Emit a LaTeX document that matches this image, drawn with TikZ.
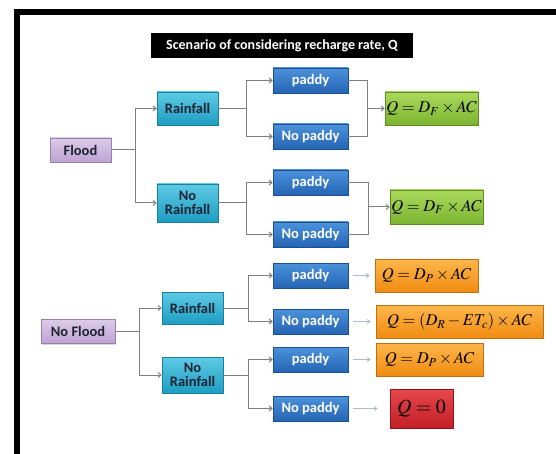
\documentclass[tikz,border=0pt]{standalone}
\usepackage{mathptmx}
\usepackage{fontspec}
\setmainfont{Carlito}
\usetikzlibrary{arrows.meta,shadows}
\definecolor{lineg}{HTML}{7F7F7F}
\definecolor{lightarr}{HTML}{A9BCCB}
\definecolor{boxtext}{HTML}{1C2433}
\definecolor{fltop}{HTML}{DCCBE8}\definecolor{flbot}{HTML}{BFA2D3}\definecolor{fldraw}{HTML}{9680AE}
\definecolor{rntop}{HTML}{5ECAE5}\definecolor{rnbot}{HTML}{1E9DC2}\definecolor{rndraw}{HTML}{17809E}
\definecolor{pdtop}{HTML}{4C92DC}\definecolor{pdbot}{HTML}{2464B4}\definecolor{pddraw}{HTML}{1D4F8F}
\definecolor{grtop}{HTML}{AAD85C}\definecolor{grbot}{HTML}{7DB532}\definecolor{grdraw}{HTML}{5F8A22}
\definecolor{ortop}{HTML}{FDB64B}\definecolor{orbot}{HTML}{F08C12}\definecolor{ordraw}{HTML}{C06F10}
\definecolor{rdtop}{HTML}{E6484C}\definecolor{rdbot}{HTML}{C21F26}\definecolor{rddraw}{HTML}{8E1519}
\tikzset{
  box/.style={draw, line width=0.5pt, inner sep=0pt, align=center,
    font=\fontsize{14.5}{16}\selectfont\bfseries,
    drop shadow={shadow xshift=1.2pt, shadow yshift=-1.2pt, opacity=0.3}},
  floodbox/.style={box, draw=fldraw, top color=fltop, bottom color=flbot, text=boxtext, minimum height=24pt},
  rainbox/.style={box, draw=rndraw, top color=rntop, bottom color=rnbot, text=boxtext, minimum width=61pt},
  padbox/.style={box, draw=pddraw, top color=pdtop, bottom color=pdbot, text=white, minimum width=75pt, minimum height=25pt, text height=10pt, text depth=2.5pt},
  eqbox/.style={box, font=\fontsize{16.5}{18}\selectfont, text=black, minimum height=33pt},
  greenbox/.style={eqbox, draw=grdraw, top color=grtop, bottom color=grbot, minimum width=93pt},
  orangebox/.style={eqbox, draw=ordraw, top color=ortop, bottom color=orbot},
  redbox/.style={eqbox, draw=rddraw, top color=rdtop, bottom color=rdbot, minimum width=63pt, minimum height=39pt},
  line/.style={draw=lineg, line width=1pt},
  arr/.style={line, -{Straight Barb[length=3pt,width=5pt]}},
  larr/.style={draw=lightarr, line width=0.8pt, -{Straight Barb[length=3pt,width=4pt]}}
}
\begin{document}
\begin{tikzpicture}[x=1pt,y=-1pt]
\useasboundingbox (0,0) rectangle (556,454);
% frame
\fill[black] (14,9) rectangle (556,15);
\fill[black] (14,9) rectangle (20,454);
% title
\node[fill=black, text=white, font=\fontsize{14}{16}\selectfont\bfseries, minimum width=262pt, minimum height=25pt, inner sep=0pt] (title) at (282,45.5) {Scenario of considering recharge rate, Q};

% Flood branch
\node[floodbox, minimum width=61pt] (flood) at (80.5,150) {Flood};
\node[rainbox, minimum height=33pt] (rain1) at (187.5,108.5) {Rainfall};
\node[rainbox, minimum height=38pt] (norain1) at (187.5,203) {No\\[-2pt]Rainfall};
\node[padbox] (pad1) at (310.5,80.5) {paddy};
\node[padbox] (nop1) at (310.5,136.5) {No paddy};
\node[padbox] (pad2) at (310.5,182.5) {paddy};
\node[padbox] (nop2) at (310.5,234.5) {No paddy};
\node[greenbox] (green1) at (431.5,108.5) {$Q=D_F\times AC$};
\node[greenbox, minimum height=34pt] (green2) at (436.5,207) {$Q=D_F\times AC$};

\coordinate (j1) at (135,150);
\coordinate (j2) at (246,108.5);
\coordinate (j3) at (246,203);
\coordinate (k1) at (367,108.5);
\coordinate (k2) at (368,207);
\draw[line] (flood.east) -- (j1);
\draw[arr] (j1) |- (rain1.west);
\draw[arr] (j1) |- (norain1.west);
\draw[line] (rain1.east) -- (j2);
\draw[arr] (j2) |- (pad1.west);
\draw[arr] (j2) |- (nop1.west);
\draw[line] (norain1.east) -- (j3);
\draw[arr] (j3) |- (pad2.west);
\draw[arr] (j3) |- (nop2.west);
\draw[line] (pad1.east) -| (k1);
\draw[line] (nop1.east) -| (k1);
\draw[arr] (k1) -- (green1.west);
\draw[line] (pad2.east) -| (k2);
\draw[line] (nop2.east) -| (k2);
\draw[arr] (k2) -- (green2.west);

% No Flood branch
\node[floodbox, minimum width=74pt] (noflood) at (78,331.5) {No Flood};
\node[rainbox, minimum height=32pt] (rain2) at (192.5,308) {Rainfall};
\node[rainbox, minimum height=36pt] (norain2) at (192.5,375) {No\\[-2pt]Rainfall};
\node[padbox] (pad3) at (310.5,275.5) {paddy};
\node[padbox] (nop3) at (310.5,321.5) {No paddy};
\node[padbox] (pad4) at (310.5,359.5) {paddy};
\node[padbox] (nop4) at (310.5,408.5) {No paddy};
\node[orangebox, minimum width=103pt] (or1) at (426.5,275.5) {$Q=D_P\times AC$};
\node[orangebox, minimum width=167pt] (or2) at (459.5,321.5) {$Q=(D_R-ET_c)\times AC$};
\node[orangebox, minimum width=107pt] (or3) at (429.5,359.5) {$Q=D_P\times AC$};
\node[redbox, font=\fontsize{20}{22}\selectfont] (red) at (421.5,408.5) {$Q=0$};

\coordinate (j5) at (139,331.5);
\coordinate (j6) at (248,308);
\coordinate (j7) at (248,375);
\draw[line] (noflood.east) -- (j5);
\draw[arr] (j5) |- (rain2.west);
\draw[arr] (j5) |- (norain2.west);
\draw[line] (rain2.east) -- (j6);
\draw[arr] (j6) |- (pad3.west);
\draw[arr] (j6) |- (nop3.west);
\draw[line] (norain2.east) -- (j7);
\draw[arr] (j7) |- (pad4.west);
\draw[arr] (j7) |- (nop4.west);
\draw[larr, shorten <=5pt, shorten >=5pt] (pad3.east) -- (or1.west);
\draw[larr, shorten <=5pt, shorten >=5pt] (nop3.east) -- (or2.west);
\draw[larr, shorten <=5pt, shorten >=5pt] (pad4.east) -- (or3.west);
\draw[larr, shorten <=5pt, shorten >=12pt] (nop4.east) -- (red.west);
\end{tikzpicture}
\end{document}
